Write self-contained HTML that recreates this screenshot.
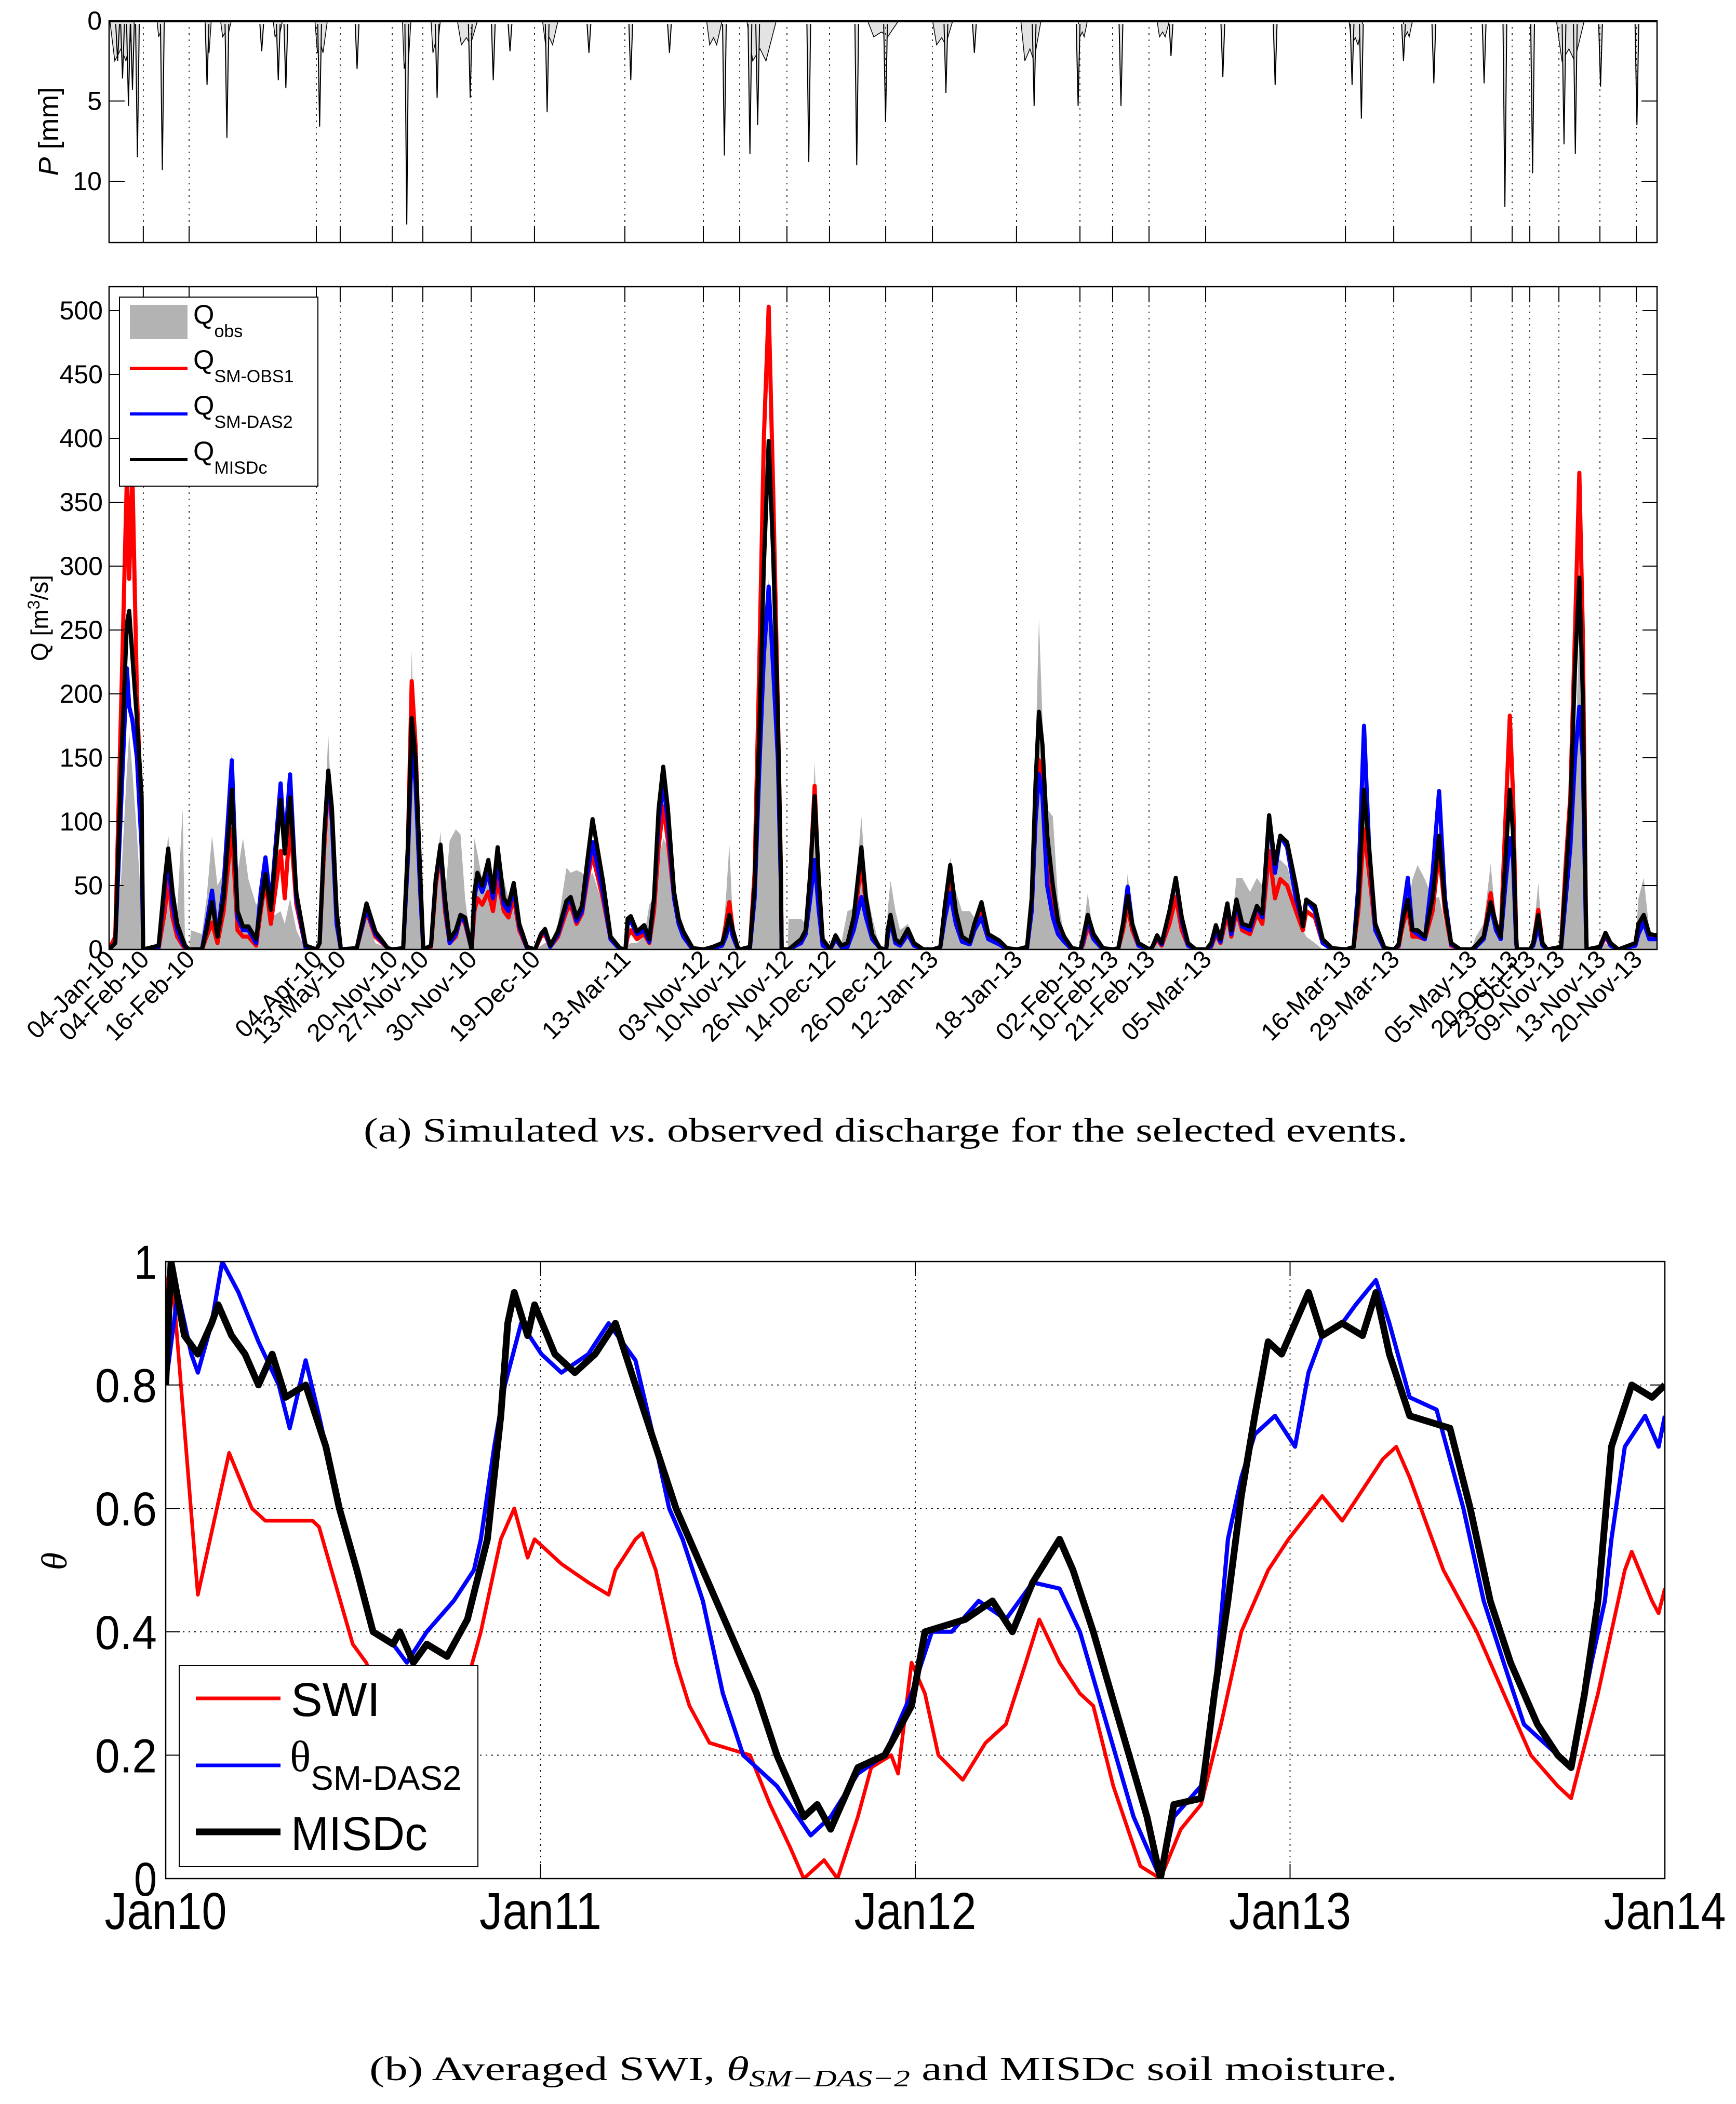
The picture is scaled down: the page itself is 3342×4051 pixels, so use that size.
<!DOCTYPE html>
<html><head><meta charset="utf-8"><style>
html,body{margin:0;padding:0;background:#fff}
svg{display:block}
</style></head><body>
<svg id="fig" xmlns="http://www.w3.org/2000/svg" width="3342" height="4051" viewBox="0 0 3342 4051" font-family="'Liberation Sans', Arial, sans-serif">
<rect x="0" y="0" width="3342" height="4051" fill="#fff"/>
<g id="pPanel"></g>
<g id="qPanel"></g>
<g id="tPanel"></g>
<text x="700" y="2198" font-family="'Liberation Serif', serif" font-size="66" textLength="2010" lengthAdjust="spacingAndGlyphs">(a)  Simulated <tspan font-style="italic">vs</tspan>. observed discharge for the selected events.</text>
<text x="711" y="4005" font-family="'Liberation Serif', serif" font-size="66" textLength="1979" lengthAdjust="spacingAndGlyphs">(b)  Averaged SWI, <tspan font-style="italic">θ</tspan><tspan font-style="italic" font-size="46" dy="12">SM−DAS−2</tspan><tspan dy="-12"> and MISDc soil moisture.</tspan></text>
</svg>
<script>
// ---------- event axis (shared by P and Q panels), x units 0..1000 ----------
const evX = [0,22.1,51.7,133.9,149.3,182.9,202.7,233.9,274.8,333.2,383.9,407.4,437.9,465.4,501.7,531.9,586.2,627.2,648.3,671.8,708.4,798.7,829.9,879.9,906.4,917.8,936.6,963.1,986.6];
const evLabels = ["04-Jan-10","04-Feb-10","16-Feb-10","04-Apr-10","13-May-10","20-Nov-10","27-Nov-10","30-Nov-10","19-Dec-10","13-Mar-11","03-Nov-12","10-Nov-12","26-Nov-12","14-Dec-12","26-Dec-12","12-Jan-13","18-Jan-13","02-Feb-13","10-Feb-13","21-Feb-13","05-Mar-13","16-Mar-13","29-Mar-13","05-May-13","20-Oct-13","23-Oct-13","09-Nov-13","13-Nov-13","20-Nov-13"];
// ---------- precipitation ----------
const pTicks = [0,5,10];
const pSpikeX = [5.5,8.7,12.5,15.1,18.3,34.4,63.3,76.1,98.6,109.3,114.2,136,160.2,192.3,211.9,233.3,248.2,259,283,310,337,362,397.5,414,419,452,483,501.6,540.6,559,597.6,626,653.7,686,719.5,753.3,803,809,836.2,855.8,888.3,901.7,919.6,939.9,947.2,963.5,987];
const pSpikeMM = [2.5,3.6,5.3,4.3,8.5,9.3,4.0,7.3,1.9,3.7,4.2,6.6,3.0,12.7,4.8,4.8,3.7,1.9,5.7,2.0,3.7,2.0,8.4,8.3,6.5,8.8,9.0,6.3,4.5,2.0,5.3,5.3,5.3,2.2,3.5,4.0,4.0,6.1,2.5,3.9,3.9,11.6,9.5,7.7,8.3,4.1,6.5];
const wetStart = [0.5,31,62,72,106,133,189.5,208,225,280,386,412,490,532,589,626,677,801,836,935];
const wetEnd = [16.5,36,66,79,112,141,195,214,238,290,396,431,510,545,602,632,685,810,842,953];
const wetDepth = [2.5,1,2,1,1,2,3,2,1.5,1.5,1.5,2.5,1,1.5,2.5,1,1,1.5,1,2.5];
// ---------- discharge ----------
const qTicks = [0,50,100,150,200,250,300,350,400,450,500];
const qX = [0,4,8,11.5,13,15,18,21,22,32,36,38.2,41,44,47.5,49,51.7,53,60,63,66.5,70,74,79.3,83,86.5,90,95,98,101,104.5,110.8,113.5,116.9,121,127,134,136,139,141.6,144,147,149.5,149.7,160,166.3,172,180,183.2,190,193,195.5,198,201,203,208,211,214.1,217,220,224,227,230,234.2,236,238,241,245,248,251,255,258,261.4,265,270,275.2,279,281.6,285,290,295.5,298.2,302,305.5,309,312.3,319,324,330,333.6,335,337,341,345.7,349,352,355,358,361,365,368,371,377,384.2,390,396,398.5,400.7,403,406,407.7,414,417,420,423,426.1,429,432,434,434.5,438.3,439,447,450,453,455.8,458.5,461,465.8,469.3,473,477,481,486,489,493,498,502,503,504.8,508,511,516,520,526,532.2,537,540,543.4,547,551,556,559,563.6,568,575,580,586.6,593,596,598.5,600.7,603,606,609.7,613,617,622,627.5,629,632.2,636,642,648.7,652,655,658,661,665,672.1,674,677,680,685,689.1,693,697,702,708.7,712,715,718,722.4,725,728.3,732,737,741.5,745,749.4,753.2,756.6,761,766.7,771.2,773.4,779,784,790,799,804,807,810.7,814,818,824,830.2,833,836,839,842,845.3,850,855,859.2,863,867,873,880.2,883,888,892.5,896,899,902,904.9,907,909,909.5,918,920,923.3,926,929,938,941,944,947,949.8,952,954,954.5,963,966.7,970,975,986,988,991.4,995,1000];
const qObs = [0,5,60,140,170,140,90,30,0, 2,60,90,50,30,110,10,0, 15,12,40,89,50,60,155,60,87,55,35,40,50,25,30,20,40,15,0,0, 5,100,168,100,20,2,0, 1,25,5,1,0, 1,100,234,120,40,0, 5,60,92,40,85,94,90,40,0, 87,75,55,60,50,60,55,40,30,10,1,0, 3,5,5,20,64,60,62,60,55,60,35,8,0,0, 3,5,5,10,35,40,70,87,80,45,25,10,0,0, 1,5,40,82,20,0,0, 1,30,120,220,290,230,120,30,0,0, 24,24,20,60,147,60,5,0, 5,5,30,32,104,50,25,1,0, 30,54,30,15,20,5,0,0, 2,40,72,45,30,30,25,35,12,3,0,0, 1,40,150,259,180,110,104,40,10,0,0, 10,44,10,0,0, 1,25,59,25,5,0, 2,5,3,30,50,20,3,0,0, 2,10,8,25,15,56,56,45,56,50,90,70,70,65,40,15,10,5,0,0,0, 2,50,181,80,15,0,0, 2,10,34,55,66,55,40,41,20,3,0,0, 10,20,67,20,5,40,84,60,5,0,0, 10,52,5,0, 1,30,80,150,250,150,20,0, 0,5,2,0, 5,40,56,15,5];
const qSM1 = [0,10,200,370,290,375,200,100,0, 1,30,55,25,10,3,1,0, 0,0,10,21,5,30,94,15,10,10,3,30,54,20,77,40,100,35,1,0, 5,80,130,100,20,2,0, 1,30,10,1,0, 1,80,210,160,50,0, 2,50,75,30,5,10,25,20,0, 30,40,35,45,30,55,30,25,40,15,1,0, 10,12,2,10,30,35,20,28,55,74,40,8,0,0, 10,15,8,12,5,30,80,112,85,40,20,10,0,0, 1,3,20,37,15,1,0, 2,60,220,400,503,360,190,60,0,0, 0,5,12,60,128,50,5,0, 8,2,2,20,67,35,10,1,0, 10,25,5,3,12,3,0,0, 2,30,52,25,8,5,20,32,10,4,0,0, 1,30,110,148,130,60,30,15,8,0,0, 3,18,8,0,0, 1,15,34,15,3,0, 2,8,3,20,41,15,3,0,0, 2,12,5,28,10,30,15,12,28,20,77,40,55,50,30,15,30,25,5,0,0, 2,30,94,60,15,0,0, 2,20,32,10,10,8,30,77,30,3,0,0, 2,10,44,15,10,100,183,120,10,0,0, 5,31,5,0, 2,67,120,250,373,250,30,0, 1,10,3,0, 3,15,24,10,8];
const qDAS2 = [0,5,120,220,190,180,150,80,0, 2,50,70,35,15,5,2,0, 0,0,20,46,10,50,148,25,15,15,5,45,72,35,130,80,137,40,1,0, 5,90,137,100,20,2,0, 1,32,12,1,0, 1,70,157,130,45,0, 3,55,78,35,5,12,25,22,0, 40,55,45,60,40,70,35,30,48,18,1,0, 12,14,2,12,35,40,22,30,60,84,45,8,0,0, 20,22,12,15,6,40,100,130,100,40,20,10,0,0, 1,3,10,21,10,1,0, 1,40,140,230,284,220,150,50,0,0, 0,5,12,40,70,30,3,0, 8,2,2,15,41,25,8,1,0, 10,22,5,3,12,3,0,0, 2,25,44,20,6,4,15,25,8,4,0,0, 1,30,100,137,120,50,25,12,6,0,0, 5,24,8,0,0, 1,20,49,20,3,0, 2,10,4,30,56,22,3,0,0, 3,15,6,36,12,36,18,15,34,25,105,60,89,80,40,20,39,30,5,0,0, 2,50,175,80,15,0,0, 3,30,56,15,12,8,60,124,40,4,0,0, 2,8,34,15,8,50,87,70,5,0,0, 3,18,3,0, 1,40,80,150,190,150,20,0, 1,12,3,0, 3,12,21,8,8];
const qMISDc = [0,5,150,255,265,230,180,120,0, 3,55,79,45,20,8,3,0, 0,0,15,37,10,40,125,30,18,18,8,35,59,31,117,75,119,44,3,0, 5,90,140,110,30,3,0, 1,36,14,1,0, 1,80,181,150,60,0, 3,55,82,40,8,15,27,25,0, 45,60,50,70,45,80,40,35,52,20,2,0, 12,16,3,14,38,41,25,34,70,102,54,10,1,0, 24,26,14,19,8,40,110,143,110,45,24,14,1,0, 2,5,15,27,15,2,0, 2,50,170,300,398,310,185,60,0,0, 0,8,15,60,120,55,8,0, 11,3,5,25,80,40,12,1,0, 15,27,8,5,16,5,0,0, 2,35,66,30,10,6,20,37,12,7,1,0, 2,40,130,186,160,90,50,22,10,1,0, 8,27,12,1,0, 1,20,42,20,5,0, 2,11,5,30,56,25,5,0,0, 5,19,8,36,15,39,20,18,34,28,105,67,89,84,50,18,39,34,8,1,0, 2,40,125,80,20,1,0, 4,25,39,15,15,10,40,89,35,5,0,0, 3,10,37,20,10,70,125,90,10,0,0, 5,27,5,0, 2,55,110,220,291,200,30,0, 2,13,5,0, 5,20,27,12,11];
// ---------- soil moisture (x in months since Jan 2010) ----------
const tTicks = [0,0.2,0.4,0.6,0.8,1];
const yearTicks = [0,12,24,36,48];
const yearLabels = ["Jan10","Jan11","Jan12","Jan13","Jan14"];
const swiM = [0,0.17,1.03,2.03,2.76,3.19,4.7,4.91,5.99,6.42,7.5,8.36,9.22,10.09,10.73,11.16,11.59,11.81,12.67,13.53,14.18,14.4,15.04,15.26,15.69,16.34,16.77,17.41,18.71,19.35,20,20.43,21.08,21.51,22.16,22.59,23.23,23.45,23.88,24.31,24.74,25.52,26.25,26.9,27.54,27.97,28.62,29.27,29.7,30.34,31.21,31.85,32.5,33.15,33.79,34.44,35.3,35.95,37.03,37.67,38.97,39.4,39.83,40.91,41.98,42.84,43.71,44.57,45,45.86,46.72,46.94,47.59,47.8,48];
const swiV = [0.95,1.0,0.46,0.69,0.6,0.58,0.58,0.57,0.38,0.35,0.22,0.2,0.24,0.4,0.55,0.6,0.52,0.55,0.51,0.48,0.46,0.5,0.55,0.56,0.5,0.35,0.28,0.22,0.2,0.12,0.05,0.0,0.03,0.0,0.1,0.18,0.2,0.17,0.35,0.3,0.2,0.16,0.22,0.25,0.35,0.42,0.35,0.3,0.28,0.15,0.02,0.0,0.08,0.12,0.25,0.4,0.5,0.55,0.62,0.58,0.68,0.7,0.65,0.5,0.4,0.3,0.2,0.15,0.13,0.3,0.5,0.53,0.45,0.43,0.47];
const dasM = [0,0.39,0.82,1.03,1.47,1.81,2.33,2.97,3.62,3.97,4.48,4.91,5.56,6.12,6.64,7.28,7.72,8.36,9.22,9.87,10.09,10.52,10.86,11.38,12.03,12.67,13.53,14.18,15.04,15.69,16.12,16.55,17.2,17.84,18.49,19.57,20.65,21.29,22.16,23.02,23.88,24.53,25.17,26.03,26.9,27.76,28.62,29.27,30.13,30.99,31.42,31.85,32.28,33.15,33.58,34.01,34.44,34.87,35.52,36.16,36.59,37.03,37.67,38.1,38.75,39.18,39.83,40.69,41.55,42.2,42.84,43.49,44.57,45,45.65,46.08,46.29,46.72,47.37,47.8,48];
const dasV = [0.8,0.95,0.85,0.82,0.9,1.0,0.95,0.87,0.8,0.73,0.84,0.75,0.6,0.5,0.4,0.38,0.35,0.4,0.45,0.5,0.55,0.7,0.8,0.9,0.85,0.82,0.85,0.9,0.84,0.7,0.6,0.55,0.45,0.3,0.2,0.15,0.07,0.1,0.17,0.2,0.3,0.4,0.4,0.45,0.42,0.48,0.47,0.4,0.25,0.1,0.05,0.0,0.1,0.15,0.3,0.55,0.65,0.72,0.75,0.7,0.82,0.88,0.9,0.93,0.97,0.9,0.78,0.76,0.6,0.45,0.35,0.25,0.2,0.18,0.35,0.45,0.55,0.7,0.75,0.7,0.75];
const misM = [0,0.17,0.6,1.03,1.47,1.68,2.11,2.54,2.97,3.41,3.84,4.48,5.13,5.56,6.12,6.64,7.28,7.5,7.93,8.36,9.01,9.66,10.3,10.73,10.95,11.16,11.59,11.81,12.46,13.1,13.75,14.4,15.04,15.69,16.34,17.2,18.06,18.92,19.57,20.43,20.86,21.29,22.16,23.02,23.88,24.31,25.6,26.47,27.11,27.76,28.62,29.05,29.7,30.56,31.42,31.85,32.28,33.15,33.58,34.01,34.44,34.87,35.3,35.73,36.59,37.03,37.67,38.32,38.75,39.18,39.83,41.12,41.77,42.41,43.06,43.92,44.57,45,45.43,45.86,46.29,46.94,47.59,48];
const misV = [0.8,1.0,0.88,0.85,0.9,0.93,0.88,0.85,0.8,0.85,0.78,0.8,0.7,0.6,0.5,0.4,0.38,0.4,0.35,0.38,0.36,0.42,0.55,0.75,0.9,0.95,0.88,0.93,0.85,0.82,0.85,0.9,0.8,0.7,0.6,0.5,0.4,0.3,0.2,0.1,0.12,0.08,0.18,0.2,0.28,0.4,0.42,0.45,0.4,0.48,0.55,0.5,0.4,0.25,0.1,0.0,0.12,0.13,0.3,0.45,0.62,0.75,0.87,0.85,0.95,0.88,0.9,0.88,0.95,0.85,0.75,0.73,0.6,0.45,0.35,0.25,0.2,0.18,0.3,0.45,0.7,0.8,0.78,0.8];

const NS = "http://www.w3.org/2000/svg";
function mk(parent, tag, attrs, text){
  const e = document.createElementNS(NS, tag);
  for (const k in attrs) e.setAttribute(k, attrs[k]);
  if (text !== undefined) e.textContent = text;
  parent.appendChild(e);
  return e;
}
const AX = {l:210, r:3190};
const xE = v => AX.l + v * (AX.r - AX.l) / 1000;
const P = {t:40, b:467, max:13.82};
const yP = mm => P.t + mm * (P.b - P.t) / P.max;
const Q = {t:552, b:1828, max:518.7};
const yQ = q => Q.b - q * (Q.b - Q.t) / Q.max;
const T = {l:319, r:3205, t:2429, b:3617};
const xT = m => T.l + m * (T.r - T.l) / 48;
const yT = v => T.b - v * (T.b - T.t);

const svg = document.getElementById('fig');
const defs = mk(svg, 'defs', {});
const cq = mk(defs, 'clipPath', {id:'clipQ'}); mk(cq, 'rect', {x:AX.l, y:Q.t, width:AX.r-AX.l, height:Q.b-Q.t});
const ct = mk(defs, 'clipPath', {id:'clipT'}); mk(ct, 'rect', {x:T.l, y:T.t, width:T.r-T.l, height:T.b-T.t});
const cp = mk(defs, 'clipPath', {id:'clipP'}); mk(cp, 'rect', {x:AX.l, y:P.t, width:AX.r-AX.l, height:P.b-P.t});

// ================= P panel =================
const gP = document.getElementById('pPanel');
const gPdata = mk(gP, 'g', {'clip-path':'url(#clipP)'});
for (let i = 0; i < wetStart.length; i++) {
  const s = wetStart[i], e = wetEnd[i], d = wetDepth[i], w = e - s;
  const pts = [[s,0],[s+0.2*w,d],[s+0.45*w,d*0.7],[s+0.65*w,d],[e,0]].map(p => xE(p[0]).toFixed(1)+','+yP(p[1]).toFixed(1)).join(' ');
  const el = mk(gPdata, 'polygon', {points:pts, fill:'#e3e3e3', stroke:'#000', 'stroke-width':1.5});
  
  
}
for (let i = 0; i < pSpikeX.length; i++) {
  const x = pSpikeX[i], mm = pSpikeMM[i];
  const pts = [[x-1.2,0.2],[x,mm],[x+1.2,0.2]].map(p => xE(p[0]).toFixed(1)+','+yP(p[1]).toFixed(1)).join(' ');
  const el = mk(gPdata, 'polyline', {points:pts, fill:'#e3e3e3', stroke:'#000', 'stroke-width':2});
  
  
}
mk(gPdata, 'line', {x1:AX.l, y1:P.t+2, x2:AX.r, y2:P.t+2, stroke:'#000', 'stroke-width':2});
evX.forEach((v, i) => {
  if (i === 0) return;
  const l = mk(gP, 'line', {x1:xE(v), y1:P.t, x2:xE(v), y2:P.b, stroke:'#000', 'stroke-width':1.6, 'stroke-dasharray':'3,9'});
  
  
  mk(gP, 'line', {x1:xE(v), y1:P.b-32, x2:xE(v), y2:P.b, stroke:'#000', 'stroke-width':2});
});
const pFrame = mk(gP, 'rect', {x:AX.l, y:P.t, width:AX.r-AX.l, height:P.b-P.t, fill:'none', stroke:'#000', 'stroke-width':2.5});


pTicks.forEach(t => {
  mk(gP, 'line', {x1:AX.l, y1:yP(t), x2:AX.l+30, y2:yP(t), stroke:'#000', 'stroke-width':2});
  mk(gP, 'line', {x1:AX.r-30, y1:yP(t), x2:AX.r, y2:yP(t), stroke:'#000', 'stroke-width':2});
  const tl = mk(gP, 'text', {x:196, y:yP(t)+17, 'text-anchor':'end', 'font-size':50}, String(t));
  
  
});
const pyl = mk(gP, 'text', {x:0, y:0, 'text-anchor':'middle', 'font-size':54, transform:'translate(112,253) rotate(-90)'});


mk(pyl, 'tspan', {'font-style':'italic'}, 'P');
mk(pyl, 'tspan', {}, ' [mm]');

// ================= Q panel =================
const gQ = document.getElementById('qPanel');
evX.forEach((v, i) => {
  if (i === 0) return;
  const l = mk(gQ, 'line', {x1:xE(v), y1:Q.t, x2:xE(v), y2:Q.b, stroke:'#000', 'stroke-width':1.6, 'stroke-dasharray':'3,9'});
  
  
  mk(gQ, 'line', {x1:xE(v), y1:Q.t, x2:xE(v), y2:Q.t+30, stroke:'#000', 'stroke-width':2});
});
const gQd = mk(gQ, 'g', {'clip-path':'url(#clipQ)'});
let area = 'M' + xE(qX[0]) + ',' + yQ(0);
for (let i = 0; i < qX.length; i++) area += ' L' + xE(qX[i]).toFixed(1) + ',' + yQ(qObs[i]).toFixed(1);
area += ' L' + xE(qX[qX.length-1]) + ',' + yQ(0) + ' Z';
const obsEl = mk(gQd, 'path', {d:area, fill:'#b3b3b3', stroke:'none'});


function qLine(vals, color, w, name){
  const pts = qX.map((x, i) => xE(x).toFixed(1) + ',' + yQ(vals[i]).toFixed(1)).join(' ');
  const el = mk(gQd, 'polyline', {points:pts, fill:'none', stroke:color, 'stroke-width':w, 'stroke-linejoin':'round'});
  
  
}
qLine(qSM1, '#ff0000', 8, 'q-sm-obs1-line');
qLine(qDAS2, '#0000ff', 8, 'q-sm-das2-line');
qLine(qMISDc, '#000000', 8, 'q-misdc-line');
const qFrame = mk(gQ, 'rect', {x:AX.l, y:Q.t, width:AX.r-AX.l, height:Q.b-Q.t, fill:'none', stroke:'#000', 'stroke-width':2.5});


qTicks.forEach(t => {
  mk(gQ, 'line', {x1:AX.l, y1:yQ(t), x2:AX.l+28, y2:yQ(t), stroke:'#000', 'stroke-width':2});
  mk(gQ, 'line', {x1:AX.r-28, y1:yQ(t), x2:AX.r, y2:yQ(t), stroke:'#000', 'stroke-width':2});
  const tl = mk(gQ, 'text', {x:198, y:yQ(t)+17, 'text-anchor':'end', 'font-size':50}, String(t));
  
  
});
evX.forEach((v, i) => {
  const tl = mk(gQ, 'text', {x:0, y:0, 'text-anchor':'end', 'font-size':48, transform:'translate(' + (xE(v)+14) + ',' + (Q.b+22) + ') rotate(-45)'}, evLabels[i]);
  
  
});
const qyl = mk(gQ, 'text', {x:0, y:0, 'text-anchor':'middle', 'font-size':46, transform:'translate(92,1190) rotate(-90)'});


mk(qyl, 'tspan', {}, 'Q [m');
mk(qyl, 'tspan', {'font-size':32, dy:-16}, '3');
mk(qyl, 'tspan', {dy:16}, '/s]');
const ql = mk(gQ, 'g', {});


mk(ql, 'rect', {x:230, y:572, width:382, height:364, fill:'#fff', stroke:'#000', 'stroke-width':2});
const qLeg = [
  {name:'legend-entry-qobs', sub:'obs', y:628, kind:'patch'},
  {name:'legend-entry-qsm-obs1', sub:'SM-OBS1', y:715, kind:'#ff0000'},
  {name:'legend-entry-qsm-das2', sub:'SM-DAS2', y:803, kind:'#0000ff'},
  {name:'legend-entry-qmisdc', sub:'MISDc', y:891, kind:'#000000'}
];
qLeg.forEach(e => {
  const g = mk(ql, 'g', {});
  
  
  if (e.kind === 'patch') mk(g, 'rect', {x:250, y:587, width:111, height:66, fill:'#b3b3b3'});
  else mk(g, 'line', {x1:250, y1:e.y-6, x2:361, y2:e.y-6, stroke:e.kind, 'stroke-width':6});
  const t = mk(g, 'text', {x:372, y:e.y-5, 'font-size':52});
  mk(t, 'tspan', {}, 'Q');
  mk(t, 'tspan', {'font-size':34, dy:26}, e.sub);
});

// ================= Theta panel =================
const gT = document.getElementById('tPanel');
tTicks.forEach(t => {
  if (t > 0 && t < 1) {
    const l = mk(gT, 'line', {x1:T.l, y1:yT(t), x2:T.r, y2:yT(t), stroke:'#000', 'stroke-width':1.8, 'stroke-dasharray':'3,8'});
    
    
  }
});
yearTicks.forEach(m => {
  if (m > 0 && m < 48) {
    const l = mk(gT, 'line', {x1:xT(m), y1:T.t, x2:xT(m), y2:T.b, stroke:'#000', 'stroke-width':1.8, 'stroke-dasharray':'3,8'});
    
    
  }
});
const gTd = mk(gT, 'g', {'clip-path':'url(#clipT)'});
function tLine(ms, vs, color, w, name){
  const pts = ms.map((m, i) => xT(m).toFixed(1) + ',' + yT(vs[i]).toFixed(1)).join(' ');
  const el = mk(gTd, 'polyline', {points:pts, fill:'none', stroke:color, 'stroke-width':w, 'stroke-linejoin':'round'});
  
  
}
tLine(swiM, swiV, '#ff0000', 7, 'swi-line');
tLine(dasM, dasV, '#0000ff', 8, 'theta-sm-das2-line');
tLine(misM, misV, '#000000', 13, 'misdc-line');
const tFrame = mk(gT, 'rect', {x:T.l, y:T.t, width:T.r-T.l, height:T.b-T.t, fill:'none', stroke:'#000', 'stroke-width':2.5});


tTicks.forEach(t => {
  mk(gT, 'line', {x1:T.l, y1:yT(t), x2:T.l+28, y2:yT(t), stroke:'#000', 'stroke-width':2});
  mk(gT, 'line', {x1:T.r-28, y1:yT(t), x2:T.r, y2:yT(t), stroke:'#000', 'stroke-width':2});
  const s = String(t);
  const attrs = {x:302, y:yT(t)+33, 'text-anchor':'end', 'font-size':92};
  attrs.textLength = s.length === 3 ? 119 : 44; attrs.lengthAdjust = 'spacingAndGlyphs';
  const tl = mk(gT, 'text', attrs, s);
  
  
});
yearTicks.forEach((m, i) => {
  mk(gT, 'line', {x1:xT(m), y1:T.b, x2:xT(m), y2:T.b-28, stroke:'#000', 'stroke-width':2});
  mk(gT, 'line', {x1:xT(m), y1:T.t, x2:xT(m), y2:T.t+28, stroke:'#000', 'stroke-width':2});
  const tl = mk(gT, 'text', {x:xT(m), y:3714, 'text-anchor':'middle', 'font-size':100, textLength:235, lengthAdjust:'spacingAndGlyphs'}, yearLabels[i]);
  
  
});
const tyl = mk(gT, 'text', {x:0, y:0, 'text-anchor':'middle', 'font-size':70, 'font-style':'italic', 'font-family':"'Liberation Serif', serif", transform:'translate(128,3006) rotate(-90)'}, 'θ');


const tl = mk(gT, 'g', {});


mk(tl, 'rect', {x:345, y:3207, width:575, height:387, fill:'#fff', stroke:'#000', 'stroke-width':2});
const e1 = mk(tl, 'g', {});


mk(e1, 'line', {x1:377, y1:3270, x2:540, y2:3270, stroke:'#ff0000', 'stroke-width':7});
mk(e1, 'text', {x:560, y:3304, 'font-size':92, textLength:172, lengthAdjust:'spacingAndGlyphs'}, 'SWI');
const e2 = mk(tl, 'g', {});


mk(e2, 'line', {x1:377, y1:3399, x2:540, y2:3399, stroke:'#0000ff', 'stroke-width':7});
const t2 = mk(e2, 'text', {x:558, y:3410, 'font-size':84});
mk(t2, 'tspan', {'font-family':"'Liberation Serif', serif"}, 'θ');
mk(t2, 'tspan', {'font-size':66, dy:36, textLength:290, lengthAdjust:'spacingAndGlyphs'}, 'SM-DAS2');
const e3 = mk(tl, 'g', {});


mk(e3, 'line', {x1:377, y1:3527, x2:540, y2:3527, stroke:'#000', 'stroke-width':13});
mk(e3, 'text', {x:560, y:3562, 'font-size':92, textLength:263, lengthAdjust:'spacingAndGlyphs'}, 'MISDc');
</script>
</body></html>
